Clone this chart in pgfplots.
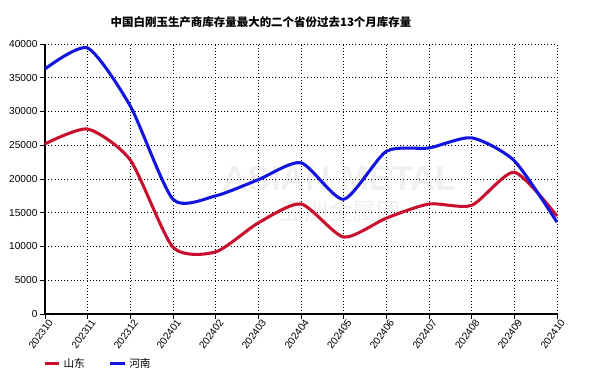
\documentclass[border=0pt]{standalone}
\usepackage{pgfplots}
\pgfplotsset{compat=1.18}
\usepackage{fontspec}
\setmainfont{Liberation Sans}
\newfontfamily\cjk{Noto Sans CJK SC}
\definecolor{sdred}{RGB}{200,16,46}
\definecolor{hnblue}{RGB}{20,20,225}
\begin{document}
\begin{tikzpicture}
\path (0pt,0pt) rectangle (444.75pt,293.25pt);
\node[font=\cjk\bfseries\fontsize{8.6pt}{10pt}\selectfont] at (195.75pt,276.75pt) {中国白刚玉生产商库存量最大的二个省份过去13个月库存量};
\node[text=gray!12, font=\bfseries\fontsize{26pt}{28pt}\selectfont] at (255pt,159pt) {ASIAN METAL};
\node[text=gray!12, font=\cjk\fontsize{18pt}{20pt}\selectfont] at (255pt,135pt) {亚洲金属网};
\begin{axis}[
  at={(33.75pt,57.75pt)}, anchor=south west,
  scale only axis, width=384pt, height=202.5pt,
  xmin=0, xmax=12, ymin=0, ymax=40000,
  xtick={0,...,12},
  xticklabels={202310,202311,202312,202401,202402,202403,202404,202405,202406,202407,202408,202409,202410},
  ytick={0,5000,...,40000},
  scaled y ticks=false,
  /pgf/number format/.cd, use comma=false, set thousands separator={}, assume math mode=true, /pgfplots/.cd,
  axis x line*=bottom, axis y line*=left,
  axis line style={black, line width=0.8pt, -},
  grid=major, grid style={black, dotted, line width=0.5pt},
  tick style={black, line width=0.6pt},
  tick align=outside, major tick length=4pt,
  ticklabel style={font=\fontsize{7.6pt}{8pt}\selectfont},
  x tick label style={rotate=54, anchor=north east, inner sep=1pt, xshift=3pt},
  y tick label style={inner sep=1.5pt},
  legend style={at={(-0.012,-0.185)}, anchor=west, legend columns=2, draw=none, fill=none,
     font=\cjk\fontsize{8pt}{9pt}\selectfont,
     /tikz/every even column/.append style={column sep=16pt}},
  legend image code/.code={\draw[#1] (0pt,0pt) -- (11pt,0pt);},
  clip=false,
]
\addplot[sdred, line width=2.3pt, smooth, tension=0.4] coordinates {
(0,25200) (1,27400) (2,22800) (3,9900) (4,9200) (5,13500) (6,16300) (7,11400) (8,14200) (9,16300) (10,16100) (11,21000) (12,14500)};
\addlegendentry{山东}
\addplot[hnblue, line width=2.3pt, smooth, tension=0.4] coordinates {
(0,36300) (1,39400) (2,30800) (3,17000) (4,17500) (5,19900) (6,22400) (7,17000) (8,24100) (9,24600) (10,26100) (11,22700) (12,13600)};
\addlegendentry{河南}
\end{axis}
\end{tikzpicture}
\end{document}
